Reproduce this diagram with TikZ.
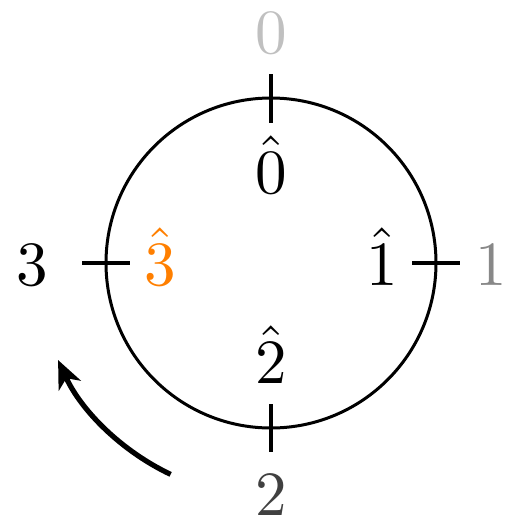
\documentclass[tikz,border=0pt]{standalone}
\usetikzlibrary{arrows.meta}
\definecolor{lgray}{HTML}{C0C0C0}
\definecolor{mgray}{HTML}{888888}
\definecolor{dgray}{HTML}{404040}
\definecolor{orng}{HTML}{FF7F00}
\begin{document}
\begin{tikzpicture}[x=0.5pt,y=-0.5pt,
  lbl/.style={anchor=base,inner sep=0pt,scale=3.15},
  tick/.style={line width=2.3pt}]
\useasboundingbox (0,0) rectangle (507,526);
\coordinate (c) at (271,263);
\draw[line width=1.5pt] (c) circle[radius=82.5pt];
% ticks
\coordinate (t0a) at (271,74); \coordinate (t0b) at (271,123);
\coordinate (t1a) at (412,263); \coordinate (t1b) at (460,263);
\coordinate (t2a) at (271,404); \coordinate (t2b) at (271,452);
\coordinate (t3a) at (82,263); \coordinate (t3b) at (130,263);
\draw[tick] (t0a) -- (t0b);
\draw[tick] (t1a) -- (t1b);
\draw[tick] (t2a) -- (t2b);
\draw[tick] (t3a) -- (t3b);
% outer labels
\node[lbl,text=lgray] (o0) at (271,53) {$0$};
\node[lbl,text=mgray] (o1) at (491,285) {$1$};
\node[lbl,text=dgray] (o2) at (271,515) {$2$};
\node[lbl,text=black] (o3) at (32,285) {$3$};
% inner labels
\node[lbl] (i0) at (271,193) {$\hat{0}$};
\node[lbl] (i1) at (382,285) {$\hat{1}$};
\node[lbl] (i2) at (271,383) {$\hat{2}$};
\node[lbl,text=orng] (i3) at (160,285) {$\hat{3}$};
% rotation arrow
\draw[line width=2.6pt,-{Stealth[length=14pt,width=12pt,inset=4pt]}]
  (c) ++(-115.4:117pt) coordinate (as) arc[start angle=-115.4, end angle=-155.5, radius=117pt] coordinate (ae);
\end{tikzpicture}
\end{document}
